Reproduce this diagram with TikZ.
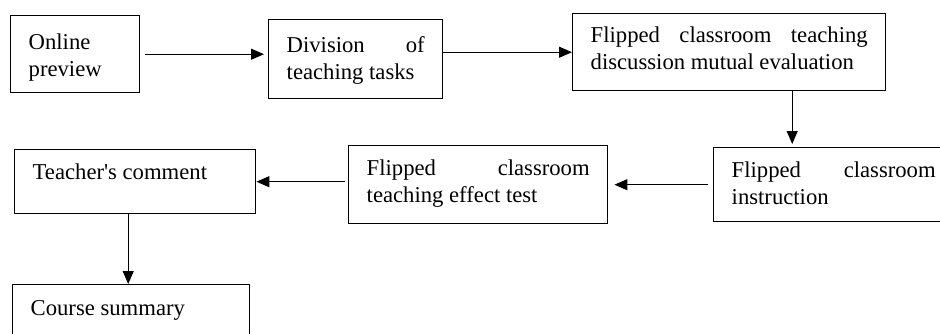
\documentclass[tikz,border=0pt]{standalone}
\usepackage{fontspec}
\setmainfont{Liberation Serif}
\usetikzlibrary{arrows.meta}
\tolerance=10000
\hyphenpenalty=10000

\begin{document}
\begin{tikzpicture}[
    box/.style={draw, line width=0.8pt, anchor=north west, inner xsep=0.36cm, inner ysep=0pt,
        align=justify, font=\fontsize{12.9}{15.4}\selectfont},
    flow/.style={-{Triangle[length=0.26cm,width=0.22cm]}, line width=0.6pt}]
    \useasboundingbox (0,0) rectangle (18.8,-6.66);
    \node[box, text width=1.86cm, text height=0.68cm, text depth=0.86cm] (a) at (0.20,-0.30) {Online preview};
    \node[box, text width=2.76cm, text height=0.66cm, text depth=0.92cm] (b) at (5.36,-0.38) {Division of teaching tasks};
    \node[box, text width=5.54cm, text height=0.58cm, text depth=0.96cm] (c) at (11.44,-0.26) {Flipped classroom teaching discussion mutual evaluation};
    \node[box, text width=4.08cm, text height=0.60cm, text depth=0.88cm] (d) at (14.26,-2.94) {Flipped classroom instruction};
    \node[box, text width=4.46cm, text height=0.60cm, text depth=0.96cm] (e) at (6.96,-2.90) {Flipped classroom teaching effect test};
    \node[box, text width=4.10cm, text height=0.60cm, text depth=0.68cm] (f) at (0.28,-2.98) {Teacher\textquotesingle s comment};
    \node[box, text width=4.02cm, text height=0.62cm, text depth=0.60cm] (g) at (0.24,-5.68) {Course summary};
    \draw[flow, shorten <=0.1cm, shorten >=0.08cm] (a.east) -- (a.east -| b.west);
    \draw[flow] (b.east |- c.west) -- (c.west);
    \draw[flow, shorten >=0.06cm] ([xshift=1.26cm]c.south) -- ([xshift=1.26cm]c.south |- d.north);
    \draw[flow, shorten <=0.1cm, shorten >=0.12cm] (d.west) -- (d.west -| e.east);
    \draw[flow, shorten <=0.06cm] (e.west |- f.east) -- (f.east);
    \draw[flow] ([xshift=-0.14cm]f.south) -- ([xshift=-0.14cm]f.south |- g.north);
\end{tikzpicture}
\end{document}
